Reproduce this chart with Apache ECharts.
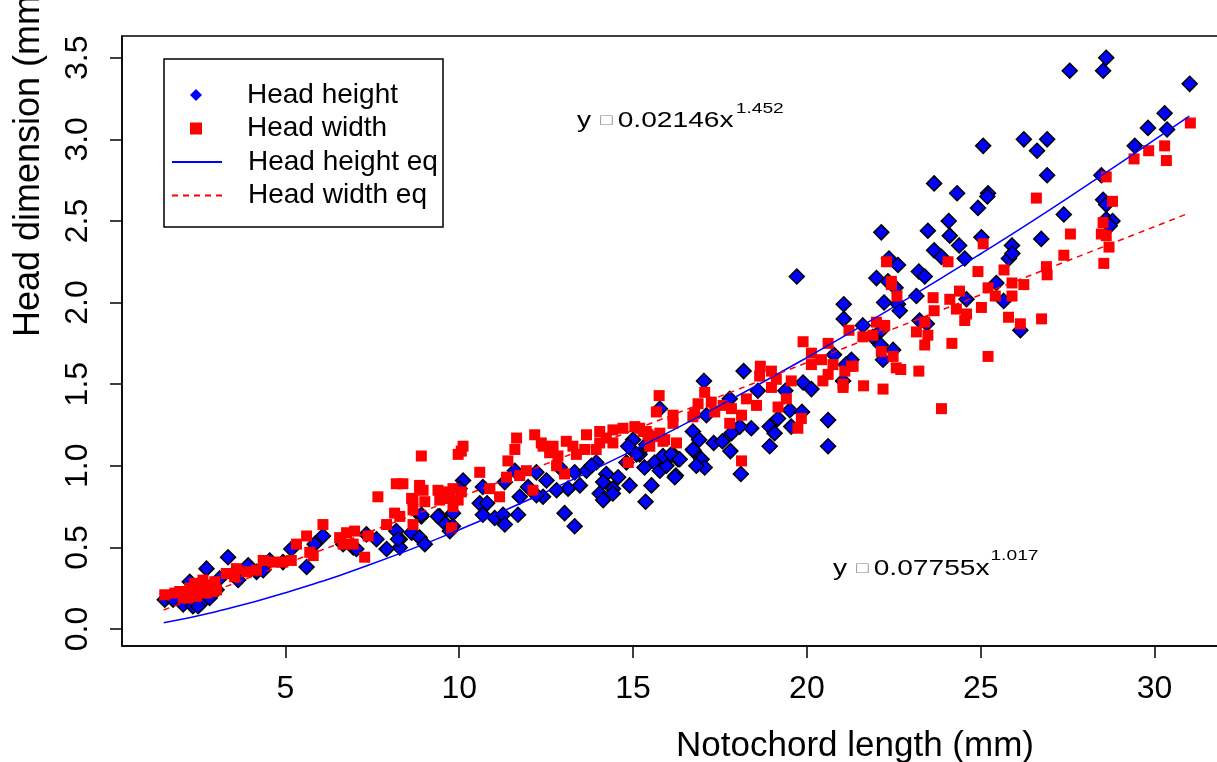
<!DOCTYPE html>
<html>
<head>
<meta charset="utf-8">
<title>Head dimension vs notochord length</title>
<script src="https://cdn.jsdelivr.net/npm/echarts@6/dist/echarts.min.js"></script>
<style>
  html, body { margin: 0; padding: 0; background: #fff; overflow: hidden; }
  /* the figure is cropped on the right, so the canvas runs past the window */
  #chart { width: 1240px; height: 762px; }
</style>
</head>
<body>
<div id="chart"></div>
<script>
const xTicks = [5, 10, 15, 20, 25, 30];
const yTicks = [0, 0.5, 1, 1.5, 2, 2.5, 3, 3.5];

// [notochord length, head height]
const headHeight = [
  [28.61,3.50],[27.56,3.42],[28.52,3.42],[31.01,3.34],[30.29,3.16],[29.81,3.07],[30.36,3.06],[29.43,2.96],
  [25.07,2.96],[26.24,3.00],[26.91,3.00],[26.62,2.93],[26.91,2.78],[28.47,2.78],[23.66,2.73],[24.32,2.67],
  [25.21,2.67],[25.19,2.65],[24.92,2.58],[27.39,2.54],[28.52,2.63],[28.61,2.60],[28.61,2.51],[28.79,2.50],
  [28.71,2.47],[24.08,2.50],[22.14,2.43],[23.48,2.44],[24.11,2.41],[24.38,2.35],[25.02,2.40],[26.74,2.39],
  [25.90,2.35],[25.81,2.27],[25.91,2.30],[23.66,2.32],[23.87,2.28],[24.54,2.27],[22.36,2.27],[22.62,2.23],
  [22.00,2.15],[23.22,2.19],[23.39,2.16],[22.33,2.13],[22.55,2.09],[25.45,2.12],[23.15,2.04],
  [21.06,1.99],[22.22,2.00],[22.62,1.99],[22.67,1.95],[25.66,2.01],[24.59,2.02],[21.06,1.90],[21.61,1.86],
  [21.90,1.79],[22.14,1.83],[23.24,1.89],[23.45,1.87],[22.12,1.74],[22.48,1.71],[22.19,1.65],[21.28,1.65],
  [21.12,1.62],[21.04,1.52],[26.14,1.83],[19.71,2.16],
  [20.78,1.68],[18.18,1.58],[17.04,1.52],[18.59,1.46],[19.38,1.46],[19.89,1.51],[20.13,1.47],[15.77,1.35],
  [17.78,1.41],[17.11,1.31],[19.51,1.34],[19.86,1.33],[19.17,1.29],[18.93,1.24],[19.07,1.20],[19.55,1.24],
  [18.40,1.23],[18.07,1.24],[17.83,1.20],[20.61,1.28],[20.61,1.12],[18.93,1.12],[17.80,1.09],[16.72,1.21],
  [16.90,1.16],[17.32,1.14],[17.57,1.15],[16.75,1.09],[16.97,1.04],[17.06,0.99],[18.10,0.95],[16.23,0.94],
  [15.53,0.88],[15.36,0.78],[15.33,0.99],[15.62,1.02],[16.15,1.07],[16.29,1.04],[15.77,0.97],[15.96,1.00],
  [15.19,1.07],[15.38,1.13],
  [16.72,1.10],[15.00,1.16],[15.10,1.07],[14.81,1.02],[15.86,1.06],[16.10,1.07],[16.34,1.04],[16.20,0.93],
  [16.82,1.00],[14.23,0.95],[14.57,0.93],[14.14,0.90],[14.42,0.86],[14.90,0.88],[14.04,0.83],[14.14,0.79],
  [14.42,0.83],[13.47,0.88],[13.13,0.86],[12.80,0.85],[12.51,0.91],[12.41,0.81],[11.98,0.87],[12.22,0.82],
  [11.74,0.81],[11.69,0.70],[12.22,0.96],[12.89,0.99],[13.32,0.96],[13.66,0.97],[13.94,1.02],[13.80,1.00],
  [14.86,1.12],[13.03,0.71],[13.32,0.63],[10.68,0.87],[10.59,0.77],[10.80,0.77],[10.68,0.70],[11.02,0.68],
  [11.26,0.70],[11.31,0.64],[11.60,0.97],[11.31,0.90],[10.11,0.91],[10.01,0.86],[9.44,0.69],[9.53,0.66],
  [9.82,0.71],[9.73,0.60],[9.82,0.63],[8.91,0.69],[8.63,0.59],[8.86,0.56],[9.01,0.52],[8.29,0.55],[8.29,0.50],
  [3.35,0.44],[2.73,0.37],[3.93,0.39],[4.17,0.35],[4.55,0.42],[5.17,0.49],[5.61,0.38],[5.84,0.52],
  [6.08,0.57],[6.66,0.52],[6.95,0.50],[7.04,0.49],[7.33,0.58],[7.62,0.55],[7.91,0.49],[8.19,0.60],
  [8.24,0.55],[8.91,0.70],[9.39,0.69],[1.53,0.18],[2.06,0.15],[2.34,0.14],[2.58,0.16],[2.82,0.19],
  [3.02,0.24],[2.25,0.29],[3.11,0.31],[1.77,0.18],[2.49,0.14],[3.64,0.30],[4.36,0.36],[4.93,0.41]
];

// [notochord length, head width]
const headWidth = [
  [31.03,3.10],[30.29,2.96],[30.34,2.87],[29.83,2.93],[29.41,2.88],[28.61,2.77],[28.79,2.62],[26.60,2.64],
  [28.52,2.49],[28.47,2.42],[28.61,2.41],[28.69,2.34],[27.58,2.42],[27.39,2.29],[26.89,2.22],[26.91,2.17],
  [28.54,2.24],[25.07,2.36],[24.06,2.25],[22.29,2.25],[22.43,2.13],[24.92,2.19],[25.67,2.20],[25.90,2.12],
  [26.24,2.11],[25.21,2.09],[24.39,2.07],[22.59,2.04],[23.63,2.03],[24.11,2.02],[25.42,2.04],[25.90,2.04],
  [22.43,2.11],[23.66,1.95],[24.30,1.96],[24.59,1.93],[24.54,1.89],[25.02,1.97],[25.80,1.91],[26.14,1.87],
  [26.75,1.90],[22.00,1.88],[22.24,1.86],[21.21,1.83],[21.61,1.79],[21.90,1.80],[23.15,1.82],[23.39,1.88],
  [23.48,1.80],[23.39,1.74],[24.17,1.75],[22.14,1.70],[22.48,1.67],[22.57,1.60],[22.70,1.59],[23.22,1.58],
  [21.28,1.61],[21.09,1.58],[21.04,1.50],[21.63,1.49],[22.19,1.47],[25.21,1.67],[23.87,1.35],
  [19.89,1.76],[20.61,1.75],[20.13,1.69],[20.42,1.65],[20.75,1.62],[20.13,1.62],[21.33,1.61],[20.61,1.56],
  [20.46,1.52],[21.04,1.48],[18.66,1.61],[18.98,1.58],[18.64,1.55],[19.12,1.53],[19.55,1.52],[18.98,1.48],
  [19.41,1.41],[19.17,1.36],[15.75,1.43],[15.67,1.33],[17.06,1.45],[16.87,1.38],[17.25,1.39],[16.77,1.32],
  [17.59,1.37],[17.83,1.35],[18.12,1.31],[18.26,1.41],[18.55,1.37],[17.78,1.26],[17.35,1.33],[16.15,1.31],
  [16.15,1.26],[15.19,1.23],[15.38,1.21],[15.57,1.18],[15.48,1.12],[15.91,1.16],[16.25,1.14],[19.84,1.29],
  [19.74,1.23],[18.12,1.03],
  [16.72,1.30],[15.05,1.24],[15.29,1.21],[14.71,1.23],[14.42,1.22],[14.04,1.21],[13.66,1.19],[14.23,1.17],
  [14.04,1.14],[14.42,1.14],[13.94,1.10],[13.61,1.10],[13.37,1.07],[13.27,1.12],[13.08,1.15],[12.70,1.12],
  [12.41,1.12],[12.60,1.08],[12.84,1.06],[12.17,1.19],[12.36,1.14],[12.80,1.00],[13.03,0.95],[11.65,1.17],
  [11.60,1.10],[15.86,1.15],[15.43,1.19],[15.77,1.20],[14.86,1.02],[11.40,1.03],[11.93,0.97],[11.74,0.94],
  [11.36,0.93],[10.59,0.96],[12.12,0.85],[10.88,0.86],[11.16,0.81],[10.06,1.09],[10.11,1.12],[8.91,1.06],
  [9.97,1.07],[9.53,0.84],[9.82,0.86],[9.97,0.79],[9.73,0.80],[9.44,0.79],[10.06,0.84],[9.82,0.75],
  [8.86,0.86],[8.67,0.79],[9.01,0.78],[8.67,0.73],[9.78,0.62],[8.67,0.64],[8.29,0.69],[8.38,0.89],
  [8.19,0.89],[8.86,0.88],[8.96,0.85],[9.39,0.85],[7.66,0.81],[8.63,0.80],[8.14,0.71],[7.91,0.64],
  [6.08,0.64],[6.56,0.56],[6.76,0.59],[6.99,0.60],[6.66,0.52],[6.95,0.52],[7.38,0.57],[7.28,0.44],
  [5.61,0.57],[5.32,0.52],[5.70,0.47],[5.80,0.45],[5.17,0.42],[4.93,0.41],[4.64,0.41],[4.36,0.42],
  [4.17,0.36],[3.88,0.35],[3.59,0.37],[3.30,0.34],[3.54,0.32],[1.53,0.21],[1.96,0.23],[2.25,0.25],
  [2.39,0.28],[2.63,0.30],[2.82,0.27],[3.02,0.24],[2.06,0.19],[2.44,0.20],[2.73,0.22],[2.97,0.29],
  [1.82,0.22],[2.15,0.21],[2.58,0.24],[2.30,0.22],[2.50,0.26],[2.70,0.25],[2.90,0.23],[2.20,0.19]
];

// fitted curves
const fitX = [1.5, 3, 5, 7.5, 10, 12.5, 15, 17.5, 20, 22.5, 25, 27.5, 31];
const heightFit = [0.039, 0.106, 0.222, 0.400, 0.608, 0.840, 1.095, 1.370, 1.663, 1.973, 2.299, 2.640, 3.142];
const widthFit = [0.117, 0.237, 0.399, 0.602, 0.806, 1.012, 1.218, 1.425, 1.632, 1.840, 2.048, 2.256, 2.549];

const font = "'Liberation Sans', Arial, 'DejaVu Sans', sans-serif";
const hidden = { color: "rgba(0,0,0,0)", borderWidth: 0 };

const legendText = (pad) => ({
  fontFamily: font,
  fontSize: 28,
  lineHeight: 28,
  color: "#000",
  padding: [0, 0, 0, pad],
});

function equation(x, y, coef, power, supX, supY) {
  return {
    type: "group",
    x: x,
    y: 0,
    scaleX: 1.28,
    children: [
      {
        type: "text",
        x: 0,
        y: y,
        style: {
          text: "{t|y }{b|□}{t|" + coef + "}",
          verticalAlign: "middle",
          rich: {
            t: { font: "22px " + font, fill: "#000" },
            b: { font: "16px " + font, fill: "#808080", padding: [0, 4, 0, 1] },
          },
        },
      },
      {
        type: "text",
        x: supX,
        y: supY,
        style: { text: power, font: "15px " + font, fill: "#000", verticalAlign: "middle" },
      },
    ],
  };
}

const chart = echarts.init(document.getElementById("chart"));

chart.setOption({
  animation: false,
  backgroundColor: "#fff",
  grid: {
    left: 122,
    right: 2,
    top: 36,
    bottom: 116,
    show: true,
    borderColor: "#000",
    borderWidth: 1.5,
  },
  legend: [
    {
      orient: "vertical",
      left: 190,
      top: 81,
      padding: 0,
      itemWidth: 12,
      itemHeight: 12,
      itemGap: 5.5,
      itemStyle: { borderWidth: 0 },
      textStyle: legendText(40),
      data: ["Head height", "Head width"],
    },
    {
      orient: "vertical",
      left: 171,
      top: 148,
      padding: 0,
      itemWidth: 50,
      itemHeight: 12,
      itemGap: 5.5,
      textStyle: legendText(21),
      data: [
        { name: "Head height eq", itemStyle: hidden },
        { name: "Head width eq", itemStyle: hidden },
      ],
    },
  ],
  xAxis: {
    type: "value",
    min: 0.3,
    max: 32.4,
    splitLine: { show: false },
    axisLine: { onZero: false, lineStyle: { color: "#000", width: 1.5 } },
    axisTick: {
      customValues: xTicks,
      length: 12,
      lineStyle: { color: "#000", width: 1.5 },
    },
    axisLabel: {
      customValues: xTicks,
      margin: 27,
      fontSize: 32,
      fontFamily: font,
      color: "#000",
    },
  },
  yAxis: {
    type: "value",
    min: -0.104,
    max: 3.633,
    splitLine: { show: false },
    axisLine: { show: true, onZero: false, lineStyle: { color: "#000", width: 1.5 } },
    axisTick: {
      show: true,
      customValues: yTicks,
      length: 12,
      lineStyle: { color: "#000", width: 1.5 },
    },
    axisLabel: {
      customValues: yTicks,
      rotate: 90,
      margin: 28,
      fontSize: 32,
      fontFamily: font,
      color: "#000",
      formatter: (v) => v.toFixed(1),
    },
  },
  graphic: [
    {
      type: "rect",
      shape: { x: 164, y: 59, width: 279, height: 168 },
      style: { fill: "none", stroke: "#000", lineWidth: 1.5 },
      z: 10,
    },
    {
      type: "text",
      x: 855,
      y: 746,
      style: {
        text: "Notochord length (mm)",
        font: "35px " + font,
        fill: "#000",
        align: "center",
        verticalAlign: "middle",
      },
    },
    {
      type: "text",
      x: 29,
      y: 160,
      rotation: Math.PI / 2,
      style: {
        text: "Head dimension (mm)",
        font: "36px " + font,
        fill: "#000",
        align: "center",
        verticalAlign: "middle",
      },
    },
    equation(577, 121, "0.02146x", "1.452", 124, 109),
    equation(833, 569, "0.07755x", "1.017", 123, 556),
  ],
  series: [
    {
      name: "Head height eq",
      type: "line",
      smooth: true,
      symbol: "none",
      data: fitX.map((x, i) => [x, heightFit[i]]),
      lineStyle: { color: "#0000ff", width: 1.5 },
      itemStyle: { color: "#0000ff" },
    },
    {
      name: "Head width eq",
      type: "line",
      smooth: true,
      symbol: "none",
      data: fitX.map((x, i) => [x, widthFit[i]]),
      lineStyle: { color: "#ff0000", width: 1.5, type: [6, 5] },
      itemStyle: { color: "#ff0000" },
    },
    {
      name: "Head height",
      type: "scatter",
      symbol: "diamond",
      symbolSize: 15,
      data: headHeight,
      itemStyle: { color: "#0000ff", borderColor: "#000", borderWidth: 1.5, opacity: 1 },
    },
    {
      name: "Head width",
      type: "scatter",
      symbol: "rect",
      symbolSize: 11,
      data: headWidth,
      itemStyle: { color: "#ff0000", opacity: 1 },
    },
  ],
});
</script>
</body>
</html>
